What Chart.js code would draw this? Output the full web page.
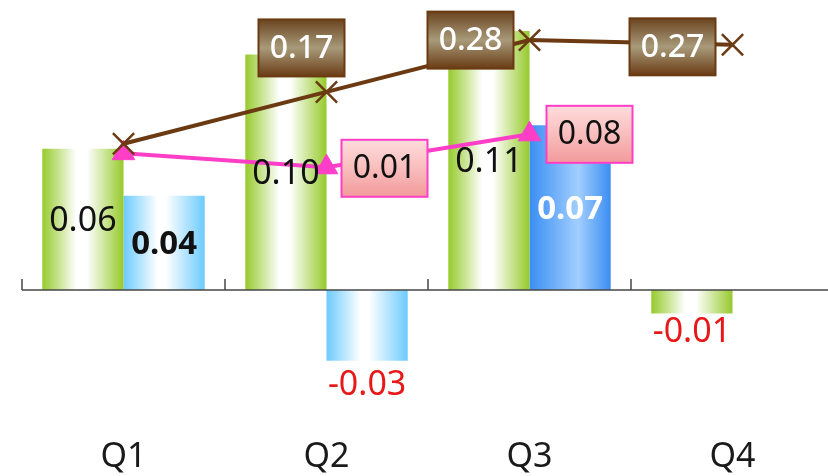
<!DOCTYPE html>
<html><head><meta charset="utf-8">
<script src="https://cdn.jsdelivr.net/npm/chart.js@4.4.1/dist/chart.umd.min.js"></script>
<style>
html,body{margin:0;padding:0;background:#fff;overflow:hidden;width:828px;height:476px}
canvas{display:block}
</style></head>
<body><canvas id="c" width="836" height="476"></canvas>
<script>
// ---- data ----
const categories = ['Q1', 'Q2', 'Q3', 'Q4'];
const greenValues = [0.06, 0.10, 0.11, -0.01];
const blueValues = [0.04, -0.03, 0.07, null];
const brownValues = [0.06, 0.17, 0.28, 0.27];
const pinkValues = [0.04, 0.01, 0.08, null];

// ---- label placement / style (not data) ----
const brownLabelOffsets = [null, [-25, -44], [-59, 0], [-60, 2]];
const pinkLabelOffsets = [null, [58, 1], [60, 0], null];
const blueLabelColors = ['#111111', '#e81818', '#ffffff', '#111111'];
const FONT = '"Noto Sans", "DejaVu Sans", sans-serif';
const BROWN = '#6B3A12';
const PINK = '#FF3EC8';
// axis calibration: pixel of zero and pixels per unit for each value axis
const AXIS_Y = { zero: 290, perUnit: 2355 };
const AXIS_Y2 = { zero: 172, perUnit: 471 };

function barGradient(c, kind) {
  const chart = c.chart;
  const xs = chart.scales.x;
  if (!chart.chartArea || !xs) return kind === 'green' ? '#9ACD32' : '#66CCFF';
  const catW = xs.width / categories.length;
  const barW = catW * 0.8 / 2;
  const center = xs.getPixelForValue(c.dataIndex) + (kind === 'green' ? -barW / 2 : barW / 2);
  const g = chart.ctx.createLinearGradient(center - barW / 2, 0, center + barW / 2, 0);
  if (kind === 'green') {
    g.addColorStop(0, '#96CA2C'); g.addColorStop(0.42, '#ffffff'); g.addColorStop(0.55, '#ffffff'); g.addColorStop(1, '#96CA2C');
  } else if (c.dataIndex === 2) {
    g.addColorStop(0, '#3A8EF2'); g.addColorStop(0.6, '#A2CEFF'); g.addColorStop(1, '#3A8EF2');
  } else {
    g.addColorStop(0, '#6CCBFF'); g.addColorStop(0.42, '#ffffff'); g.addColorStop(0.52, '#ffffff'); g.addColorStop(1, '#6CCBFF');
  }
  return g;
}

function drawBox(ctx, cx, cy, w, h, stops, border, text, textColor, weight) {
  const x = cx - w / 2, y = cy - h / 2;
  const g = ctx.createLinearGradient(0, y, 0, y + h);
  stops.forEach(s => g.addColorStop(s[0], s[1]));
  ctx.fillStyle = g;
  ctx.fillRect(x, y, w, h);
  ctx.lineWidth = 2;
  ctx.strokeStyle = border;
  ctx.strokeRect(x, y, w, h);
  ctx.fillStyle = textColor;
  ctx.font = weight + ' 32px ' + FONT;
  ctx.textAlign = 'center';
  ctx.textBaseline = 'middle';
  ctx.fillText(text, cx, cy + 1);
}

const calibratePlugin = {
  id: 'calibrate',
  afterLayout(chart) {
    const ca = chart.chartArea;
    [['y', AXIS_Y], ['y2', AXIS_Y2]].forEach(([id, a]) => {
      const s = chart.scales[id];
      s.min = -(ca.bottom - a.zero) / a.perUnit;
      s.max = (a.zero - ca.top) / a.perUnit;
      s.configure();
    });
  }
};

const labelPlugin = {
  id: 'customLabels',
  afterDatasetsDraw(chart) {
    const ctx = chart.ctx;
    const xs = chart.scales.x, ys = chart.scales.y;
    const ca = chart.chartArea;
    const y0 = ys.getPixelForValue(0);
    ctx.save();
    ctx.strokeStyle = '#474747';
    ctx.lineWidth = 1.5;
    ctx.beginPath();
    ctx.moveTo(ca.left, y0); ctx.lineTo(ca.right, y0);
    for (let i = 0; i <= categories.length; i++) {
      const x = xs.getPixelForValue(i - 0.5);
      ctx.moveTo(x, y0); ctx.lineTo(x, y0 - 11);
    }
    ctx.stroke();

    ctx.textAlign = 'center';
    ctx.textBaseline = 'middle';
    const gMeta = chart.getDatasetMeta(2), bMeta = chart.getDatasetMeta(3);
    gMeta.data.forEach((el, i) => {
      const v = greenValues[i];
      if (v === null) return;
      ctx.font = '34px ' + FONT;
      if (v >= 0) {
        ctx.fillStyle = '#111111';
        ctx.fillText(v.toFixed(2), el.x, (el.y + el.base) / 2 + 2);
      } else {
        ctx.fillStyle = '#e81818';
        ctx.fillText(v.toFixed(2), el.x, el.y + 19);
      }
    });
    bMeta.data.forEach((el, i) => {
      const v = blueValues[i];
      if (v === null) return;
      ctx.fillStyle = blueLabelColors[i];
      if (v >= 0) {
        ctx.font = 'bold 33px ' + FONT;
        ctx.fillText(v.toFixed(2), el.x, (el.y + el.base) / 2 + 2);
      } else {
        ctx.font = '34px ' + FONT;
        ctx.fillText(v.toFixed(2), el.x, el.y + 25);
      }
    });
    const brMeta = chart.getDatasetMeta(0), pkMeta = chart.getDatasetMeta(1);
    brMeta.data.forEach((el, i) => {
      const off = brownLabelOffsets[i];
      if (!off || brownValues[i] === null) return;
      drawBox(ctx, el.x + off[0], el.y + off[1], 86, 57,
        [[0, '#6A4420'], [0.5, '#A89A7A'], [1, '#6A3C14']], BROWN,
        brownValues[i].toFixed(2), '#ffffff', '500');
    });
    pkMeta.data.forEach((el, i) => {
      const off = pinkLabelOffsets[i];
      if (!off || pinkValues[i] === null) return;
      drawBox(ctx, el.x + off[0], el.y + off[1], 86, 57,
        [[0, '#FFDCDC'], [0.5, '#F9BDBD'], [1, '#F29A9A']], PINK,
        pinkValues[i].toFixed(2), '#111111', 'normal');
    });
    ctx.restore();
  }
};

new Chart(document.getElementById('c'), {
  type: 'bar',
  data: {
    labels: categories,
    datasets: [
      {
        type: 'line', label: 'Brown', data: brownValues, yAxisID: 'y2',
        borderColor: BROWN, borderWidth: 4, tension: 0,
        pointStyle: 'crossRot', pointRadius: 15, pointBorderWidth: 2.5,
        pointBorderColor: BROWN, pointBackgroundColor: BROWN, clip: false
      },
      {
        type: 'line', label: 'Pink', data: pinkValues, yAxisID: 'y2',
        borderColor: PINK, borderWidth: 4, tension: 0,
        pointStyle: 'triangle', pointRadius: 13, pointBorderWidth: 1,
        pointBorderColor: PINK, pointBackgroundColor: PINK, clip: false
      },
      {
        label: 'Green', data: greenValues, yAxisID: 'y',
        backgroundColor: c => barGradient(c, 'green'), borderWidth: 0,
        barPercentage: 1.0, categoryPercentage: 0.8
      },
      {
        label: 'Blue', data: blueValues, yAxisID: 'y',
        backgroundColor: c => barGradient(c, 'blue'), borderWidth: 0,
        barPercentage: 1.0, categoryPercentage: 0.8
      }
    ]
  },
  options: {
    responsive: false, animation: false, devicePixelRatio: 1,
    layout: { autoPadding: false, padding: { left: 22, right: 2, top: 0, bottom: 0 } },
    plugins: { legend: { display: false }, tooltip: { enabled: false } },
    scales: {
      x: {
        grid: { display: false, drawTicks: false }, border: { display: false },
        ticks: { font: { family: FONT, size: 34, lineHeight: 1.1 }, color: '#1a1a1a', padding: 0 }
      },
      y: { display: false, min: -0.0606, max: 0.1234 },
      y2: { display: false, position: 'right', min: -0.5529, max: 0.3652 }
    }
  },
  plugins: [calibratePlugin, labelPlugin]
});
</script>
</body></html>
